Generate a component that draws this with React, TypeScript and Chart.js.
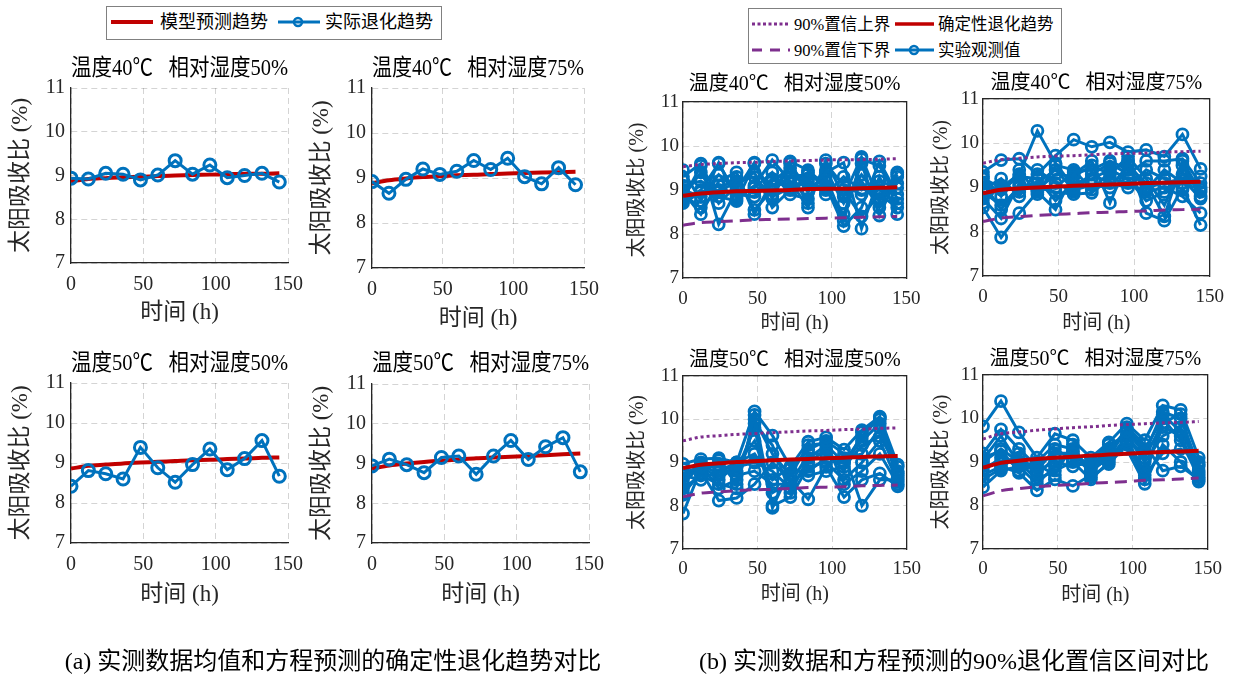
import React, { useEffect, useRef } from "react";
import { Chart, registerables } from "chart.js";

Chart.register(...registerables);

// ---------------- data ----------------
const hours = [0, 12, 24, 36, 48, 60, 72, 84, 96, 108, 120, 132, 144];
const xTickValues = [0, 50, 100, 150];
const yTickValues = [7, 8, 9, 10, 11];

// (a) measured mean vs model trend
const meanT40H50 = [8.94, 8.92, 9.05, 9.03, 8.9, 9.01, 9.34, 9.03, 9.24, 8.95, 9.0, 9.05, 8.85];
const modelT40H50 = [8.87, 8.92, 8.94, 8.96, 8.97, 8.99, 9.0, 9.01, 9.02, 9.03, 9.04, 9.04, 9.05];
const meanT40H75 = [8.92, 8.66, 8.97, 9.2, 9.08, 9.15, 9.39, 9.19, 9.44, 9.03, 8.87, 9.23, 8.85];
const modelT40H75 = [8.88, 8.95, 8.99, 9.02, 9.04, 9.06, 9.07, 9.09, 9.1, 9.11, 9.12, 9.13, 9.14];
const meanT50H50 = [8.42, 8.81, 8.73, 8.6, 9.39, 8.88, 8.52, 8.96, 9.35, 8.83, 9.11, 9.56, 8.67];
const modelT50H50 = [8.86, 8.93, 8.96, 8.99, 9.01, 9.03, 9.05, 9.07, 9.08, 9.1, 9.11, 9.13, 9.14];
const meanT50H75 = [8.94, 9.11, 8.97, 8.77, 9.15, 9.19, 8.73, 9.19, 9.58, 9.1, 9.42, 9.65, 8.79];
const modelT50H75 = [8.87, 8.95, 9.0, 9.04, 9.07, 9.1, 9.13, 9.15, 9.17, 9.19, 9.21, 9.23, 9.25];

// (b) individual observations, trend and 90% bounds
const obsT40H50 = [
  [9.45, 8.75, 9.62, 8.8, 9.1, 9.68, 9.2, 8.6, 9.68, 8.85, 9.75, 8.75, 9.4],
  [9.3, 9.6, 8.22, 9.0, 9.62, 8.9, 9.65, 9.45, 9.1, 8.18, 8.6, 9.65, 8.9],
  [8.95, 8.45, 9.2, 9.4, 8.45, 9.2, 9.5, 8.95, 9.4, 9.62, 8.12, 9.3, 8.45],
  [8.85, 9.4, 8.7, 9.1, 9.4, 8.6, 9.0, 9.2, 9.0, 8.45, 9.6, 8.42, 9.3],
  [8.75, 9.0, 9.6, 8.9, 8.85, 9.25, 9.4, 8.7, 9.6, 9.1, 8.9, 9.0, 8.7],
  [8.9, 8.6, 9.0, 9.3, 8.55, 9.0, 9.3, 9.35, 9.2, 8.9, 9.2, 8.6, 9.35],
  [8.8, 9.55, 8.85, 8.75, 9.6, 8.8, 9.6, 9.0, 9.3, 8.3, 9.7, 9.55, 8.8],
  [9.0, 8.85, 9.35, 9.0, 8.95, 9.1, 9.15, 9.4, 9.05, 9.0, 8.4, 8.9, 8.6],
  [9.1, 9.2, 8.95, 9.2, 9.3, 8.85, 9.05, 9.25, 8.9, 9.3, 9.0, 9.2, 9.05],
  [8.7, 8.95, 9.1, 8.85, 9.05, 9.4, 8.9, 8.8, 9.45, 8.7, 9.35, 8.8, 9.15],
];
const trendT40H50 = [8.87, 8.92, 8.95, 8.97, 8.98, 8.99, 9.0, 9.02, 9.03, 9.03, 9.04, 9.05, 9.06];
const upperT40H50 = [9.53, 9.58, 9.6, 9.62, 9.63, 9.65, 9.66, 9.67, 9.68, 9.69, 9.69, 9.7, 9.71];
const lowerT40H50 = [8.2, 8.26, 8.28, 8.3, 8.32, 8.33, 8.34, 8.35, 8.36, 8.37, 8.38, 8.39, 8.4];

const obsT40H75 = [
  [9.35, 9.62, 9.65, 9.3, 9.72, 10.08, 9.92, 10.02, 9.8, 9.85, 9.7, 10.2, 9.42],
  [8.55, 7.87, 8.42, 8.9, 8.5, 9.3, 9.6, 8.65, 9.6, 8.42, 8.25, 9.0, 8.15],
  [9.2, 9.0, 9.3, 10.28, 9.55, 9.0, 9.3, 9.55, 9.3, 9.6, 9.6, 9.65, 9.1],
  [8.9, 8.6, 9.0, 9.0, 8.9, 8.85, 8.88, 9.2, 9.1, 8.9, 9.0, 8.8, 8.42],
  [8.75, 8.3, 9.1, 8.95, 9.3, 9.25, 9.5, 9.3, 9.7, 9.2, 8.6, 9.5, 8.8],
  [9.0, 8.95, 9.25, 9.2, 8.7, 9.1, 9.2, 9.4, 9.2, 8.7, 8.9, 9.3, 9.0],
  [8.65, 9.05, 8.9, 9.1, 9.4, 8.95, 9.05, 9.0, 9.5, 9.1, 8.35, 9.6, 8.9],
  [9.1, 8.5, 9.05, 8.95, 9.0, 9.35, 9.4, 9.6, 9.4, 9.0, 9.1, 9.2, 8.75],
  [8.95, 9.2, 8.8, 9.4, 9.1, 8.9, 9.3, 9.1, 9.0, 9.4, 9.2, 8.95, 9.25],
  [9.25, 8.8, 9.4, 8.85, 9.5, 9.4, 8.95, 9.35, 9.6, 8.95, 9.4, 9.1, 8.95],
];
const trendT40H75 = [8.87, 8.95, 8.98, 9.0, 9.02, 9.04, 9.05, 9.07, 9.08, 9.1, 9.11, 9.12, 9.13];
const upperT40H75 = [9.55, 9.63, 9.66, 9.69, 9.71, 9.72, 9.74, 9.76, 9.77, 9.78, 9.8, 9.81, 9.82];
const lowerT40H75 = [8.23, 8.31, 8.34, 8.37, 8.39, 8.41, 8.43, 8.44, 8.46, 8.47, 8.49, 8.5, 8.51];

const obsT50H50 = [
  [8.97, 9.08, 9.1, 9.0, 10.18, 9.62, 8.9, 9.48, 9.58, 9.3, 9.75, 10.06, 8.95],
  [8.75, 8.9, 8.9, 8.7, 8.8, 8.5, 8.5, 9.2, 9.2, 9.0, 9.5, 9.9, 8.7],
  [8.4, 8.7, 8.5, 8.4, 10.1, 8.0, 8.2, 8.9, 9.0, 8.6, 9.0, 9.5, 8.55],
  [8.25, 8.8, 8.12, 8.18, 8.5, 9.0, 8.6, 8.15, 8.9, 8.2, 8.6, 8.75, 8.45],
  [7.82, 8.85, 8.95, 8.8, 9.8, 7.95, 8.85, 9.3, 9.5, 9.2, 8.0, 8.6, 8.6],
  [8.6, 9.0, 8.7, 8.9, 9.0, 8.8, 8.4, 9.0, 9.3, 8.8, 9.7, 10.0, 8.8],
  [8.3, 8.75, 9.05, 8.5, 10.0, 9.2, 8.7, 9.4, 9.45, 8.5, 8.8, 9.2, 8.5],
  [8.5, 8.95, 8.6, 8.95, 9.5, 8.3, 8.55, 8.8, 9.1, 9.1, 9.2, 9.8, 8.65],
  [8.7, 8.6, 8.8, 9.0, 9.2, 8.6, 8.9, 8.7, 8.8, 8.9, 9.4, 9.6, 8.9],
  [8.85, 8.95, 8.4, 8.6, 9.9, 9.4, 8.3, 9.1, 9.4, 9.0, 9.6, 10.04, 8.75],
];
const trendT50H50 = [8.87, 8.95, 8.98, 9.01, 9.03, 9.05, 9.07, 9.08, 9.1, 9.11, 9.13, 9.14, 9.15];
const upperT50H50 = [9.5, 9.59, 9.62, 9.65, 9.67, 9.69, 9.71, 9.73, 9.74, 9.76, 9.77, 9.79, 9.8];
const lowerT50H50 = [8.21, 8.29, 8.32, 8.35, 8.37, 8.38, 8.4, 8.42, 8.43, 8.44, 8.46, 8.47, 8.48];

const obsT50H75 = [
  [9.82, 10.4, 9.68, 9.1, 9.65, 9.5, 9.1, 9.45, 9.88, 9.5, 10.3, 10.2, 9.1],
  [9.2, 9.75, 9.3, 8.9, 9.2, 9.2, 8.9, 9.2, 9.7, 9.2, 10.15, 10.0, 8.9],
  [9.0, 9.3, 9.0, 8.6, 8.8, 9.0, 8.6, 9.0, 9.5, 8.8, 9.8, 9.6, 8.7],
  [8.7, 8.9, 8.75, 8.35, 8.6, 8.45, 8.7, 9.3, 9.3, 8.5, 9.4, 9.0, 8.55],
  [8.42, 8.8, 8.9, 9.0, 9.4, 9.3, 8.8, 9.1, 9.8, 9.4, 8.8, 8.9, 8.6],
  [8.9, 9.0, 9.1, 8.8, 9.0, 8.9, 9.0, 9.4, 9.6, 9.0, 9.6, 9.8, 8.8],
  [9.1, 9.25, 8.8, 8.95, 8.7, 9.4, 8.65, 8.95, 9.4, 8.7, 9.2, 9.3, 9.0],
  [8.6, 8.85, 9.2, 8.7, 9.1, 9.1, 8.95, 9.25, 9.75, 9.3, 10.0, 9.5, 8.65],
  [9.05, 9.6, 8.95, 8.8, 9.3, 9.05, 8.85, 9.05, 9.6, 9.1, 9.9, 10.1, 8.75],
  [8.8, 9.1, 8.9, 8.5, 8.9, 9.25, 8.75, 9.15, 9.45, 8.6, 10.1, 9.7, 8.95],
];
const trendT50H75 = [8.87, 8.98, 9.03, 9.07, 9.1, 9.12, 9.15, 9.17, 9.19, 9.21, 9.23, 9.24, 9.26];
const upperT50H75 = [9.53, 9.65, 9.69, 9.73, 9.76, 9.79, 9.81, 9.84, 9.86, 9.88, 9.9, 9.91, 9.93];
const lowerT50H75 = [8.22, 8.34, 8.39, 8.43, 8.46, 8.48, 8.51, 8.53, 8.55, 8.58, 8.59, 8.61, 8.63];

// ---------------- styles ----------------
const FONT = '"Liberation Serif", "Noto Sans CJK SC", serif';
const BLUE = "#0072BD";
const RED = "#C00000";
const PURPLE = "#7E2F8E";
const AXIS = "#262626";
const GRID = "rgba(0,0,0,0.17)";
const RP = 22;

type Spec = {
  L: number; T: number; R: number; B: number;
  titleDy: number; yLabelX: number; tickDy: number; xLabelDy: number;
  titleSize: number; tickSize: number; labelSize: number; yTickPad: number;
  box: boolean; title: string; datasets: any[];
};

const pts = (vals: number[]) => hours.map((h, i) => ({ x: h, y: vals[i] }));

function meanSets(mean: number[], model: number[]) {
  return [
    {
      data: pts(mean), borderColor: BLUE, borderWidth: 3, pointRadius: 6,
      pointBorderWidth: 3, pointBorderColor: BLUE, pointBackgroundColor: "rgba(255,255,255,0)",
      tension: 0, order: 0,
    },
    {
      data: pts(model), borderColor: RED, borderWidth: 4, pointRadius: 0,
      cubicInterpolationMode: "monotone", order: 1,
    },
  ];
}

function bandSets(obs: number[][], trend: number[], upper: number[], lower: number[]) {
  const blue = obs.map((s, k) => ({
    data: pts(s), borderColor: BLUE, borderWidth: 3, pointRadius: 5.5,
    pointBorderWidth: 2.8, pointBorderColor: BLUE, pointBackgroundColor: "rgba(255,255,255,0)",
    tension: 0, order: 3 + k,
  }));
  return [
    { data: pts(trend), borderColor: RED, borderWidth: 4, pointRadius: 0, cubicInterpolationMode: "monotone", order: 0 },
    { data: pts(upper), borderColor: PURPLE, borderWidth: 3, borderDash: [3, 3], pointRadius: 0, cubicInterpolationMode: "monotone", order: 1 },
    { data: pts(lower), borderColor: PURPLE, borderWidth: 3, borderDash: [12, 7], pointRadius: 0, cubicInterpolationMode: "monotone", order: 2 },
    ...blue,
  ];
}

const GAP = "   ";
const A = { titleSize: 23, tickSize: 20, labelSize: 23, yTickPad: 6, box: false };
const Bp = { titleSize: 20, tickSize: 19, labelSize: 20, yTickPad: 4, box: true };

const specs: Spec[] = [
  { ...A, L: 71, T: 88, R: 291, B: 263, titleDy: 19.5, yLabelX: 21, tickDy: 22, xLabelDy: 50,
    title: "温度40℃" + GAP + "相对湿度50%", datasets: meanSets(meanT40H50, modelT40H50) },
  { ...A, L: 372, T: 88, R: 587, B: 268, titleDy: 19, yLabelX: 322, tickDy: 22, xLabelDy: 51,
    title: "温度40℃" + GAP + "相对湿度75%", datasets: meanSets(meanT40H75, modelT40H75) },
  { ...A, L: 71, T: 383, R: 291, B: 543, titleDy: 19, yLabelX: 21, tickDy: 22, xLabelDy: 52,
    title: "温度50℃" + GAP + "相对湿度50%", datasets: meanSets(meanT50H50, modelT50H50) },
  { ...A, L: 372, T: 384, R: 592, B: 543, titleDy: 20, yLabelX: 322, tickDy: 22, xLabelDy: 52,
    title: "温度50℃" + GAP + "相对湿度75%", datasets: meanSets(meanT50H75, modelT50H75) },
  { ...Bp, L: 683, T: 102, R: 908, B: 278, titleDy: 17, yLabelX: 638, tickDy: 21, xLabelDy: 46,
    title: "温度40℃" + GAP + "相对湿度50%", datasets: bandSets(obsT40H50, trendT40H50, upperT40H50, lowerT40H50) },
  { ...Bp, L: 983, T: 99, R: 1212, B: 276, titleDy: 15.5, yLabelX: 942, tickDy: 21.5, xLabelDy: 48,
    title: "温度40℃" + GAP + "相对湿度75%", datasets: bandSets(obsT40H75, trendT40H75, upperT40H75, lowerT40H75) },
  { ...Bp, L: 683, T: 376, R: 908, B: 549, titleDy: 15.5, yLabelX: 638, tickDy: 20.5, xLabelDy: 46,
    title: "温度50℃" + GAP + "相对湿度50%", datasets: bandSets(obsT50H50, trendT50H50, upperT50H50, lowerT50H50) },
  { ...Bp, L: 983, T: 375, R: 1209, B: 549, titleDy: 15.5, yLabelX: 942, tickDy: 20.5, xLabelDy: 46.5,
    title: "温度50℃" + GAP + "相对湿度75%", datasets: bandSets(obsT50H75, trendT50H75, upperT50H75, lowerT50H75) },
];

function geom(s: Spec) {
  const lhT = s.titleSize * 1.2;
  const lhL = s.labelSize * 1.2;
  const lhK = s.tickSize * 1.2;
  const left = Math.floor(s.yLabelX - lhL / 2);
  const titlePB = s.titleDy - lhT / 2;
  const top = Math.floor(s.T - (2 + lhT + titlePB));
  const padTop = s.T - top - lhT - titlePB;
  const width = s.R - left + RP;
  const height = Math.ceil(s.B + s.xLabelDy + lhL / 2 - top);
  const yW = s.L - left;
  const xH = height - (s.B - top);
  const tickPadX = s.tickDy - lhK / 2;
  return { left, top, width, height, padTop, titlePB, yW, xH, tickPadX };
}

function SubChart({ spec }: { spec: Spec }) {
  const ref = useRef<HTMLCanvasElement>(null);
  const g = geom(spec);
  useEffect(() => {
    const tickFont = { family: FONT, size: spec.tickSize };
    const labelFont = { family: FONT, size: spec.labelSize };
    const scales: any = {
      x: {
        type: "linear", position: "bottom", min: 0, max: 150,
        afterBuildTicks: (sc: any) => { sc.ticks = xTickValues.map((v) => ({ value: v })); },
        afterFit: (sc: any) => { sc.height = g.xH; },
        ticks: { font: tickFont, color: AXIS, padding: g.tickPadX, maxRotation: 0, autoSkip: false },
        grid: { color: GRID, lineWidth: 1, drawTicks: false },
        border: { display: true, color: AXIS, width: 1.3, dash: [6, 4] },
        title: { display: true, text: "时间 (h)", font: labelFont, color: AXIS, padding: 0 },
      },
      y: {
        type: "linear", position: "left", min: 7, max: 11,
        afterBuildTicks: (sc: any) => { sc.ticks = yTickValues.map((v) => ({ value: v })); },
        afterFit: (sc: any) => { sc.width = g.yW; },
        ticks: { font: tickFont, color: AXIS, padding: spec.yTickPad, autoSkip: false },
        grid: { color: GRID, lineWidth: 1, drawTicks: false },
        border: { display: true, color: AXIS, width: 1.3, dash: [6, 4] },
        title: { display: true, text: "太阳吸收比 (%)", font: labelFont, color: AXIS, padding: 0 },
      },
    };
    if (spec.box) {
      scales.xTop = {
        type: "linear", position: "top", min: 0, max: 150,
        ticks: { display: false }, grid: { display: false, drawTicks: false },
        border: { display: true, color: AXIS, width: 1.3 },
        afterFit: (sc: any) => { sc.height = 0; },
      };
      scales.yRight = {
        type: "linear", position: "right", min: 7, max: 11,
        ticks: { display: false }, grid: { display: false, drawTicks: false },
        border: { display: true, color: AXIS, width: 1.3 },
        afterFit: (sc: any) => { sc.width = 0; },
      };
    }
    const chart = new Chart(ref.current as HTMLCanvasElement, {
      type: "line",
      data: { datasets: spec.datasets.map((d) => ({ ...d, xAxisID: "x", yAxisID: "y" })) },
      options: {
        animation: false,
        responsive: false,
        devicePixelRatio: 1,
        layout: { padding: { top: g.padTop, left: 0, right: RP, bottom: 0 } },
        plugins: {
          legend: { display: false },
          tooltip: { enabled: false },
          title: {
            display: true, text: spec.title, fullSize: false, color: "#000",
            font: { family: FONT, size: spec.titleSize, weight: "normal" },
            padding: { top: 0, bottom: g.titlePB },
          },
        },
        scales,
      } as any,
    });
    return () => chart.destroy();
  }, []);
  return (
    <canvas
      ref={ref}
      width={g.width}
      height={g.height}
      style={{ position: "absolute", left: g.left, top: g.top, width: g.width, height: g.height }}
    />
  );
}

function Legends() {
  const t = { fontFamily: FONT, fill: "#000" } as any;
  return (
    <svg width={1234} height={677} style={{ position: "absolute", left: 0, top: 0, pointerEvents: "none" }}>
      <rect x={106.5} y={6.5} width={335} height={33} fill="#fff" stroke="#808080" strokeWidth={1} />
      <line x1={111} y1={22} x2={153} y2={22} stroke={RED} strokeWidth={4} />
      <text x={160} y={22} dominantBaseline="central" fontSize={18} {...t}>模型预测趋势</text>
      <line x1={278} y1={22} x2={320} y2={22} stroke={BLUE} strokeWidth={3} />
      <circle cx={298} cy={22} r={4} fill="none" stroke={BLUE} strokeWidth={2.5} />
      <text x={325} y={22} dominantBaseline="central" fontSize={18} {...t}>实际退化趋势</text>

      <rect x={748.5} y={8.5} width={313} height={55} fill="#fff" stroke="#808080" strokeWidth={1} />
      <line x1={752} y1={24} x2={790} y2={24} stroke={PURPLE} strokeWidth={3} strokeDasharray="3 2.5" />
      <text x={794} y={24} dominantBaseline="central" fontSize={16.5} {...t}>90%置信上界</text>
      <line x1={895} y1={24} x2={934} y2={24} stroke={RED} strokeWidth={3.5} />
      <text x={938} y={24} dominantBaseline="central" fontSize={16.5} {...t}>确定性退化趋势</text>
      <line x1={752} y1={50} x2={790} y2={50} stroke={PURPLE} strokeWidth={3} strokeDasharray="10 8" />
      <text x={794} y={50} dominantBaseline="central" fontSize={16.5} {...t}>90%置信下界</text>
      <line x1={895} y1={50} x2={934} y2={50} stroke={BLUE} strokeWidth={3} />
      <circle cx={914} cy={50} r={4} fill="none" stroke={BLUE} strokeWidth={2.5} />
      <text x={938} y={50} dominantBaseline="central" fontSize={16.5} {...t}>实验观测值</text>
    </svg>
  );
}

export default function App() {
  const cap = { position: "absolute", top: 646, fontFamily: FONT, fontSize: 24, lineHeight: "30px", textAlign: "center", color: "#000", whiteSpace: "nowrap" } as any;
  return (
    <div style={{ position: "absolute", left: 0, top: 0, width: 1234, height: 677, background: "#fff", overflow: "hidden" }}>
      {specs.map((s, i) => (
        <SubChart key={i} spec={s} />
      ))}
      <Legends />
      <div style={{ ...cap, left: 0, width: 666 }}>(a) 实测数据均值和方程预测的确定性退化趋势对比</div>
      <div style={{ ...cap, left: 674, width: 560 }}>(b) 实测数据和方程预测的90%退化置信区间对比</div>
    </div>
  );
}
